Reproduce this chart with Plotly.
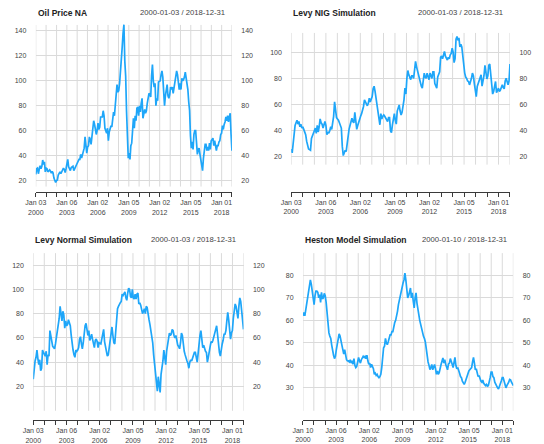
import pandas as pd
import plotly.graph_objects as go

W, H = 544, 444

# Weekly-ish series, sampled monthly from the first to the last observation
oil_price = [
    25, 29.5, 30, 25.5, 29, 32, 29.5, 31.5, 36.5, 33, 35, 27,
    30, 29.5, 27, 28, 28.6, 27.5, 26, 27.5, 26, 22, 19, 18.5,
    20, 20.5, 24.5, 26.5, 27, 25.5, 27, 28.5, 30, 29, 26.5, 29.5,
    33, 37, 31, 28.5, 28, 30.5, 31, 31.5, 28, 30.5, 31, 32.5,
    34.5, 35, 37, 37, 41, 38, 41, 45.5, 46, 55, 48.5, 42,
    47, 48, 55, 53, 49, 57, 59, 68, 65, 62, 57, 60,
    66, 61, 63, 71, 71, 71, 76, 72, 62, 59, 58, 62,
    52, 59, 61, 64, 63, 68, 75, 72, 81, 88, 97, 91,
    92, 98, 106, 115, 127, 138, 145, 116, 104, 76, 55, 38,
    42, 37, 48, 50, 60, 70, 62, 72, 68, 78, 79, 72,
    80, 75, 82, 86, 70, 76, 77, 74, 76, 82, 86, 90,
    89, 87, 104, 113, 100, 95, 98, 80, 86, 84, 99, 100,
    100, 105, 108, 103, 92, 80, 88, 96, 97, 88, 86, 89,
    95, 93, 95, 90, 95, 97, 106, 108, 105, 99, 93, 98,
    93, 102, 100, 101, 103, 107, 102, 95, 93, 83, 76, 56,
    46, 51, 45, 57, 60, 60, 49, 41, 45, 46, 41, 36,
    30, 28, 38, 42, 49, 49, 44, 47, 44, 50, 45, 52,
    53, 54, 48, 52, 48, 44, 48, 48, 51, 52, 57, 58,
    64, 61, 65, 67, 71, 68, 72, 67, 71, 74, 57, 44,
]

levy_nig = [
    26, 23, 30, 38, 44, 46, 48, 45, 47, 43, 45, 42,
    43, 41, 39, 37, 32, 28, 26, 25.5, 25, 34, 36.5, 39,
    40, 42, 38, 44, 39, 43, 49, 46, 45, 42, 44, 47,
    44, 37, 39, 38, 40, 43, 41, 47, 51, 62, 56, 50,
    49, 48, 46, 44.5, 42, 28, 21, 23, 25, 24, 30, 37,
    41, 44, 48, 49.5, 47, 46, 54, 45, 41, 44, 47, 50,
    51, 53, 55, 58.5, 63.5, 62, 61, 59, 61, 64.8, 62, 64,
    66, 72, 74, 70, 65, 61, 55, 50, 44.5, 53, 49, 51,
    52, 51, 49.5, 48, 47, 50, 50, 40, 38.5, 44.5, 50, 53,
    48, 45, 55, 57, 59.7, 55, 52, 54, 58, 63.6, 72.5, 68,
    80, 86, 82.7, 80, 79, 82, 82, 80, 86, 93, 89, 86,
    82, 79, 76, 74, 72.5, 79, 84, 81, 80, 84, 81, 79,
    84, 82, 80, 85, 85, 76, 74, 72.5, 81, 83, 85, 96,
    97, 95, 99, 100.5, 97, 95, 94, 96, 95, 98, 99, 103,
    100, 92, 95, 110, 112, 109, 111, 104, 106, 104, 95, 89,
    84, 81, 80, 78, 77.6, 75, 77, 80, 84, 82, 76, 70,
    66, 73.8, 76, 77.6, 80, 82.7, 74, 77, 82, 90, 81.4, 79.5,
    82, 90, 91, 84, 77, 68, 70, 74, 77.6, 69, 71, 72.5,
    70, 71, 73, 75, 73, 72, 78, 80, 77.6, 75, 78, 91,
]

levy_normal = [
    26, 36, 41, 44, 50, 43, 38, 42, 33, 35, 50, 48,
    46, 45, 49, 38, 46, 45, 66, 61, 55, 53, 52, 51,
    55, 60, 66, 70, 76, 86, 80, 74, 82, 79, 68, 74,
    70, 71, 75, 72, 70, 62, 52, 50, 46, 44, 50, 49,
    50, 52, 59, 61, 55, 51, 56, 64, 70, 72, 65, 62,
    66, 58, 60, 63, 59, 55, 52, 58, 59, 57, 52, 56,
    55, 55, 59, 63, 67, 57, 52, 48, 45, 46, 51, 55,
    60, 69, 62, 56, 55, 65, 75, 84, 86, 88, 89, 90,
    96, 95, 96, 98, 93, 91, 97, 101, 100, 94, 93, 100,
    93, 92, 96, 92, 96, 97, 88, 89, 87, 84, 80, 82,
    84, 80, 86, 85, 78, 75, 71, 67, 63, 56, 46, 39,
    30, 24, 16, 28, 23, 15, 30, 35, 41, 50, 43, 38,
    49, 54, 60, 64, 62, 63, 67, 66, 62, 60, 62, 56,
    54, 53, 51, 56, 64, 62, 53, 49, 46, 42, 41, 39,
    35, 40, 42, 41, 44, 45, 48, 48, 44, 40, 47, 56,
    62, 66, 58, 52, 54, 50, 49, 48, 40, 44, 50, 53,
    57, 56, 58, 62, 65, 67, 70, 61, 54, 48, 45, 52,
    55, 58, 63, 63, 66, 74, 81, 75, 62, 59, 64, 66,
    76, 85, 88, 86, 80, 76, 86, 93, 90, 80, 77, 67,
]

heston = [
    62, 63.5, 62, 65, 67, 70.5, 72, 75, 78, 76, 73.5, 71.5,
    67, 71, 73, 73, 72.5, 70, 71.5, 68, 72.5, 69.5, 70, 72,
    71, 68, 64, 57, 54.4, 53, 52, 49, 46, 44.5, 43, 44,
    47, 50, 52, 54, 53, 50, 49, 47, 45, 47, 44.5, 42.5,
    42, 42, 41.5, 42.5, 41, 42, 40.5, 43, 40, 39, 39.5, 41.5,
    43.5, 42, 41, 42.5, 43, 44, 43.5, 44, 43, 44.5, 42, 40.5,
    41, 39, 40.5, 39.5, 38.5, 36, 36.5, 35.5, 36, 35, 34.5, 35,
    36, 39, 44.8, 47.8, 48.5, 52, 50, 49.2, 50.5, 52, 53.5, 53.5,
    55, 55, 57.4, 59, 60, 61.8, 64, 67, 69.2, 71.4, 72.9, 74,
    76.6, 78, 81, 78, 73.5, 70, 71, 73.6, 74.4, 70, 72.2, 68.5,
    65.5, 70, 72.2, 67.7, 64, 62.5, 60, 58.1, 55.5, 54, 53, 52,
    50.5, 47.5, 43, 41.5, 40, 38.1, 39, 40.4, 38, 39.5, 40.4, 38.5,
    36, 37.5, 36, 36.7, 38, 40.4, 41.8, 43.3, 41, 42.5, 40.5, 39,
    38, 40.5, 41, 43, 42, 40.5, 39, 41.5, 43.5, 40, 38.5, 39,
    37, 36.5, 35, 34.5, 33, 32, 31.5, 32.5, 34, 35.5, 36, 37.5,
    38, 38.5, 39, 41.5, 43.5, 41, 38, 38.5, 36.5, 35, 35.5, 34,
    33, 32.5, 33.5, 32, 31.5, 31, 31.5, 30.8, 31, 32.5, 34.5, 37,
    37, 35, 34.5, 32.5, 31.5, 30.5, 30, 29.5, 30.5, 32, 33, 34.5,
    34.5, 33, 31, 30, 31, 31.5, 32.5, 33.7, 33.5, 32.5, 31.5, 31,
]

# First weekly observation of each calendar year
year_starts = [
    "2001-01-01", "2002-01-07", "2003-01-06", "2004-01-05", "2005-01-03",
    "2006-01-02", "2007-01-01", "2008-01-07", "2009-01-05", "2010-01-04",
    "2011-01-03", "2012-01-02", "2013-01-07", "2014-01-06", "2015-01-05",
    "2016-01-04", "2017-01-02", "2018-01-01",
]
labelled = {"2003-01-06", "2006-01-02", "2009-01-05", "2012-01-02",
            "2015-01-05", "2018-01-01"}
end_date = "2018-12-31"

series = [
    ("Oil Price NA", oil_price, "2000-01-03", [20, 40, 60, 80, 100, 120, 140]),
    ("Levy NIG Simulation", levy_nig, "2000-01-03", [20, 40, 60, 80, 100]),
    ("Levy Normal Simulation", levy_normal, "2000-01-03", [20, 40, 60, 80, 100, 120]),
    ("Heston Model Simulation", heston, "2000-01-10", [30, 40, 50, 60, 70, 80]),
]

# Panel geometry in pixels: plot x extent, y extent (bottom, top),
# two reference ticks (value, pixel), vertical grid extent, header row
geometry = [
    dict(x=(25.3, 225.5), y=(192.5, 23.5), ref=((20, 181.0), (140, 31.0)),
         grid=(187.0, 25.0), head_y=12.7, span_x=220.0),
    dict(x=(286.0, 509.3), y=(192.3, 32.0), ref=((20, 157.2), (100, 52.3)),
         grid=(165.0, 33.0), head_y=12.7, span_x=503.7),
    dict(x=(22.7, 237.3), y=(421.0, 253.0), ref=((20, 387.3), (120, 265.7)),
         grid=(411.7, 253.7), head_y=240.3, span_x=231.7),
    dict(x=(298.0, 512.7), y=(420.7, 253.0), ref=((30, 388.7), (80, 276.0)),
         grid=(411.7, 253.7), head_y=240.3, span_x=508.0),
]

LINE = "#1EA6F9"
GRID = "#dadada"
AXIS = "#3a3a3a"
FONT = "Liberation Sans, Arial, sans-serif"


def px_to_value(p, ref):
    (v1, p1), (v2, p2) = ref
    return v1 + (p - p1) * (v2 - v1) / (p2 - p1)


def tick_text(d):
    ts = pd.Timestamp(d)
    return ts.strftime("%b %d") + "<br>" + ts.strftime("%Y")


fig = go.Figure()
layout = dict(
    width=W, height=H, margin=dict(l=0, r=0, t=0, b=0),
    paper_bgcolor="white", plot_bgcolor="white", showlegend=False,
    font=dict(family=FONT, color="#444"),
)
shapes, annotations = [], []

for i, ((title, vals, start, yticks), g) in enumerate(zip(series, geometry), 1):
    dates = pd.date_range(start, end_date, periods=len(vals))
    xa, ya, yr = f"x{i}", f"y{i}", f"y{i + 4}"
    fig.add_trace(go.Scatter(
        x=dates, y=vals, mode="lines", xaxis=xa, yaxis=ya,
        line=dict(color=LINE, width=1.7), hoverinfo="skip",
    ))
    fig.add_trace(go.Scatter(
        x=[dates[0]], y=[vals[0]], mode="markers", xaxis=xa, yaxis=yr,
        marker=dict(opacity=0), hoverinfo="skip",
    ))

    yrange = [px_to_value(g["y"][0], g["ref"]), px_to_value(g["y"][1], g["ref"])]
    xdom = [g["x"][0] / W, g["x"][1] / W]
    ydom = [1 - g["y"][0] / H, 1 - g["y"][1] / H]

    tickdates = [start] + year_starts + [end_date]
    ticktext = [tick_text(start)] + [tick_text(d) if d in labelled else ""
                                     for d in year_starts] + [""]

    layout[f"xaxis{i}"] = dict(
        domain=xdom, anchor=ya, range=[start, end_date], type="date",
        tickmode="array", tickvals=tickdates, ticktext=ticktext,
        ticks="outside", ticklen=4, tickwidth=1, tickcolor=AXIS,
        showline=True, linecolor=AXIS, linewidth=1, showgrid=False,
        zeroline=False, tickfont=dict(size=7, color="#444"), tickangle=0,
    )
    ycommon = dict(
        range=yrange, tickmode="array", tickvals=yticks,
        ticks="outside", ticklen=7, tickcolor="rgba(0,0,0,0)",
        showline=False, zeroline=False, tickfont=dict(size=7, color="#444"),
    )
    layout[f"yaxis{i}"] = dict(domain=ydom, anchor=xa, side="left",
                               showgrid=True, gridcolor=GRID, gridwidth=1,
                               **ycommon)
    layout[f"yaxis{i + 4}"] = dict(overlaying=ya, anchor=xa, side="right",
                                   showgrid=False, **ycommon)

    g_lo = px_to_value(g["grid"][0], g["ref"])
    g_hi = px_to_value(g["grid"][1], g["ref"])
    for d in tickdates:
        shapes.append(dict(type="line", xref=xa, yref=ya, x0=d, x1=d,
                           y0=g_lo, y1=g_hi, layer="below",
                           line=dict(color=GRID, width=1)))

    annotations.append(dict(
        text=f"<b>{title}</b>", xref="paper", yref="paper",
        x=g["x"][0] / W, y=1 - g["head_y"] / H, xanchor="left",
        yanchor="middle", showarrow=False,
        font=dict(size=8.5, color="#222", family=FONT),
    ))
    annotations.append(dict(
        text=f"{pd.Timestamp(start):%Y-%m-%d} / {end_date}",
        xref="paper", yref="paper", x=g["span_x"] / W, y=1 - g["head_y"] / H,
        xanchor="right", yanchor="middle", showarrow=False,
        font=dict(size=7.7, color="#444", family=FONT),
    ))

layout["shapes"] = shapes
layout["annotations"] = annotations
fig.update_layout(**layout)
fig.write_html("out.html")
